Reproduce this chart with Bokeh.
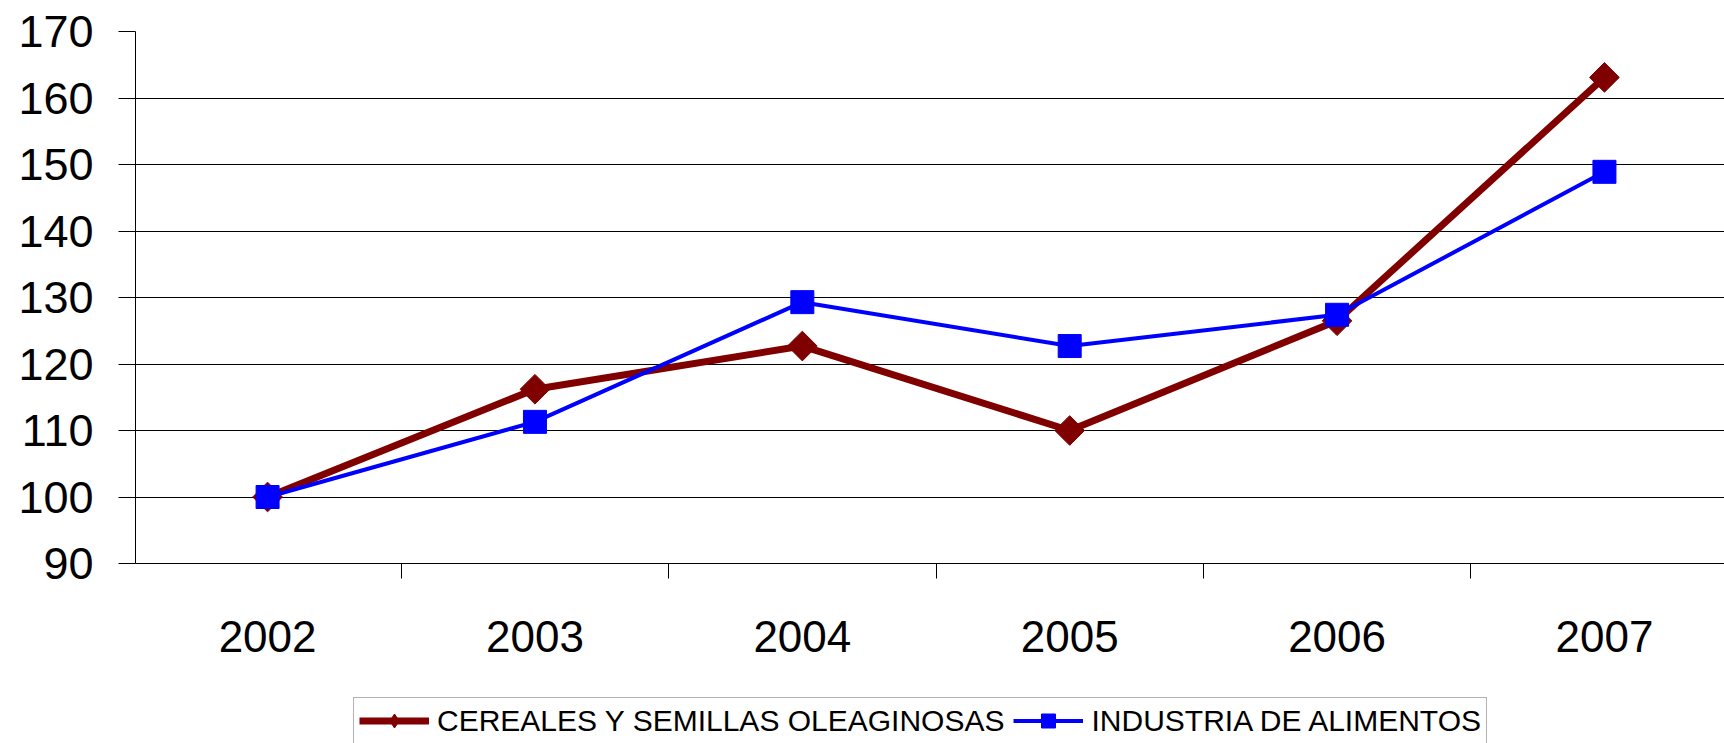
import numpy as np
from bokeh.plotting import figure
from bokeh.layouts import column
from bokeh.models import Range1d, FixedTicker, Legend, LegendItem, ColumnDataSource
from bokeh.embed import file_html
from bokeh.resources import INLINE

# ---- data ----
years = ["2002", "2003", "2004", "2005", "2006", "2007"]
cereales = [100.0, 116.2, 122.7, 110.0, 126.5, 163.1]
industria = [100.0, 111.3, 129.3, 122.7, 127.4, 148.9]
y_ticks = [90, 100, 110, 120, 130, 140, 150, 160, 170]
series_names = ["CEREALES Y SEMILLAS OLEAGINOSAS", "INDUSTRIA DE ALIMENTOS"]

RED = "#800000"
BLUE = "#0000FF"
FONT = "Liberation Sans"

xpos = list(range(len(years)))
src = ColumnDataSource(dict(x=xpos, cer=cereales, ind=industria))

H_MAIN = 683
H_LEG = 60


def add_series(fig, legend_style=False):
    l1 = fig.line("x", "cer", source=src, line_color=RED, line_width=7)
    if legend_style:
        m1 = fig.scatter("x", "cer", source=src, marker="diamond", size=21,
                         fill_color=RED, line_color=RED)
    else:
        m1 = fig.scatter("x", "cer", source=src, marker="square", angle=np.pi / 4, size=21,
                         fill_color=RED, line_color=RED)
    l2 = fig.line("x", "ind", source=src, line_color=BLUE, line_width=4)
    m2 = fig.scatter("x", "ind", source=src, marker="square", size=23,
                     fill_color=BLUE, line_color=BLUE)
    return l1, m1, l2, m2


p = figure(width=1724, height=H_MAIN, output_backend="svg", toolbar_location=None,
           x_range=Range1d(-0.494, 5.449), y_range=Range1d(90, 170),
           min_border_left=135, min_border_right=0, min_border_top=31,
           min_border_bottom=120)
p.outline_line_color = None
p.background_fill_color = "white"
p.border_fill_color = "white"

# x axis: labels at categories, tick marks at boundaries
xa = p.xaxis[0]
xa.ticker = FixedTicker(ticks=xpos, minor_ticks=[i - 0.5 for i in range(len(years) + 1)])
xa.major_label_overrides = {i: y for i, y in zip(xpos, years)}
xa.major_tick_out = 0
xa.major_tick_in = 0
xa.minor_tick_out = 15
xa.minor_tick_in = 0
xa.minor_tick_line_color = "black"
xa.axis_line_color = "black"
xa.axis_line_width = 1
xa.major_label_text_font = FONT
xa.major_label_text_font_size = "44px"
xa.major_label_text_color = "black"
xa.major_label_standoff = 42

ya = p.yaxis[0]
ya.ticker = FixedTicker(ticks=y_ticks)
ya.major_tick_out = 17
ya.major_tick_in = 0
ya.minor_tick_line_color = None
ya.major_tick_line_color = "black"
ya.axis_line_color = "black"
ya.major_label_text_font = FONT
ya.major_label_text_font_size = "45px"
ya.major_label_text_color = "black"
ya.major_label_standoff = 25

p.xgrid.grid_line_color = None
p.ygrid.ticker = FixedTicker(ticks=y_ticks)
p.ygrid.grid_line_color = "black"
p.ygrid.grid_line_width = 1

add_series(p)

# ---- legend strip (separate figure below the chart; series drawn off-frame) ----
q = figure(width=1724, height=H_LEG, output_backend="svg", toolbar_location=None,
           x_range=Range1d(0, 1), y_range=Range1d(0, 1),
           min_border_left=0, min_border_right=0, min_border_top=0, min_border_bottom=0)
q.axis.visible = False
q.grid.visible = False
q.outline_line_color = None
q.background_fill_color = "white"
q.border_fill_color = "white"
k1, k1m, k2, k2m = add_series(q, legend_style=True)

legend = Legend(items=[LegendItem(label=series_names[0], renderers=[k1, k1m]),
                       LegendItem(label=series_names[1], renderers=[k2, k2m])],
                orientation="horizontal", location=(218, -1), margin=0,
                padding=5, spacing=9, label_standoff=8,
                glyph_width=70, glyph_height=35, label_height=35,
                label_text_font=FONT, label_text_font_size="30px",
                label_text_color="black",
                border_line_color="#666666", border_line_width=1,
                background_fill_color="white", background_fill_alpha=1)
q.add_layout(legend, "center")

layout = column(p, q, spacing=0)
open("out.html", "w").write(file_html(layout, INLINE))
